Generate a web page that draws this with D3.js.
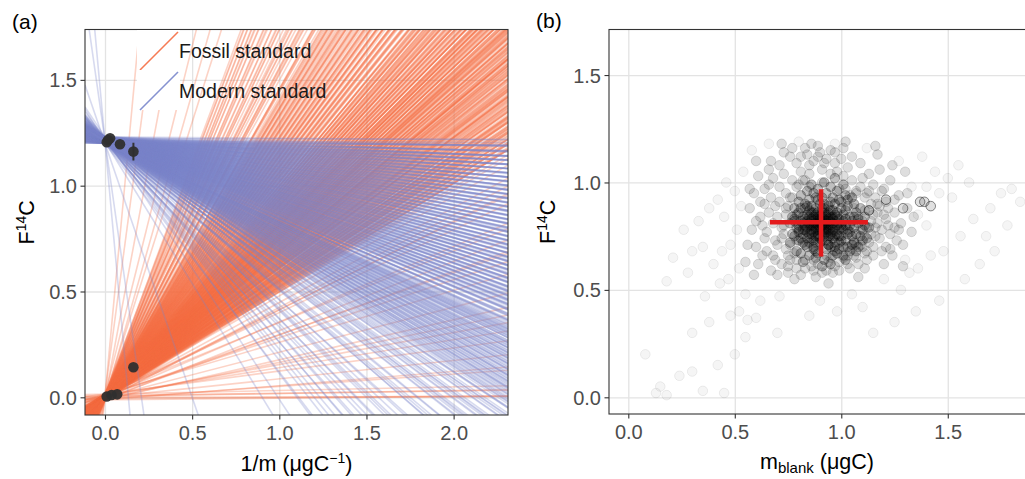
<!DOCTYPE html>
<html>
<head>
<meta charset="utf-8">
<script src="https://cdn.jsdelivr.net/npm/d3@7"></script>
<style>
  body { margin: 0; background: #fff; }
  svg { font-family: "Liberation Sans", Arial, sans-serif; }
  .tick text { fill: #4d4d4d; font-size: 20px; }
  .tick line { stroke: #333; stroke-width: 1.1; }
  .grid .tick line { stroke: #e3e3e3; stroke-width: 1.3; }
</style>
</head>
<body>
<svg id="chart" width="1025" height="479"></svg>
<script>
// ---- data ----
var xTicksA = [0, 0.5, 1, 1.5, 2];
var yTicks = [0, 0.5, 1, 1.5];
var xTicksB = [0, 0.5, 1, 1.5];

// standard lines F14C = intercept + slope * (1/m), grouped by intercept
var fossilIntercepts = [0.000, 0.008, -0.006, 0.015, -0.012, 0.004];
var fossilSlopes = [
 [0.002,0.087,0.213,0.356,0.448,
  0.506,0.518,0.527,0.539,0.552,0.561,0.574,0.583,0.596,0.607,0.615,0.628,0.639,0.651,0.659,0.672,0.684,
  0.691,0.705,0.716,0.724,0.738,0.749,0.757,0.771,0.779,0.792,0.806,0.813,0.828,0.839,0.851,0.866,0.874,
  0.889,0.903,0.918,0.931,0.949,0.962,0.981,0.996,
  1.018,1.044,1.061,1.089,1.112,1.138,1.161,1.193,1.221,1.256,1.283,1.322,1.358,1.391,
  1.44,1.53,1.62,1.74,1.88,2.03,2.19, 2.6,
  0.545,0.612,0.677,0.733,0.797],
 [0.011,0.132,0.274,0.392,0.471,
  0.502,0.513,0.524,0.536,0.545,0.558,0.569,0.579,0.588,0.601,0.611,0.622,0.633,0.643,0.656,0.664,0.677,
  0.688,0.697,0.709,0.719,0.731,0.742,0.752,0.763,0.776,0.786,0.797,0.809,0.821,0.834,0.845,0.858,0.870,
  0.883,0.897,0.911,0.925,0.940,0.955,0.971,0.989,
  1.008,1.031,1.053,1.076,1.101,1.126,1.149,1.178,1.207,1.239,1.270,1.305,1.341,1.377,
  1.41,1.49,1.58,1.69,1.81,1.96,2.12, 3.3,
  0.566,0.628,0.693,0.757,0.818],
 [0.005,0.058,0.171,0.301,0.419,
  0.509,0.521,0.531,0.543,0.556,0.565,0.577,0.586,0.593,0.604,0.618,0.626,0.637,0.648,0.653,0.668,0.679,
  0.694,0.701,0.712,0.727,0.735,0.746,0.754,0.768,0.774,0.789,0.801,0.817,0.825,0.842,0.849,0.862,0.878,
  0.886,0.908,0.915,0.936,0.944,0.966,0.977,
  1.003,1.025,1.049,1.069,1.094,1.119,1.144,1.172,1.199,1.231,1.262,1.297,1.334,1.369,
  1.46,1.56,1.66,1.78,1.92,2.08, 4.4,
  0.534,0.599,0.662,0.721,0.783],
 [0.017,0.109,0.245,0.338,0.482,
  0.504,0.515,0.529,0.537,0.549,0.563,0.571,0.581,0.592,0.603,0.613,0.624,0.635,0.646,0.657,0.666,0.675,
  0.686,0.699,0.707,0.718,0.729,0.740,0.751,0.761,0.772,0.784,0.795,0.804,0.819,0.831,0.843,0.855,0.868,
  0.881,0.894,0.906,0.921,0.934,0.952,0.968,0.985,
  1.013,1.036,1.057,1.081,1.106,1.131,1.155,1.184,1.214,1.247,1.277,1.313,1.349,1.386,
  1.43,1.51,1.60,1.72,1.85,2.00,2.16, 6.2,
  0.558,0.619,0.681,0.746,0.808],
 [0.008,0.067,0.189,0.327,0.437,
  0.511,0.523,0.533,0.547,0.554,0.567,0.576,0.590,0.598,0.609,0.620,0.631,0.641,0.654,0.662,0.673,0.683,
  0.695,0.703,0.714,0.722,0.733,0.744,0.756,0.766,0.778,0.788,0.799,0.811,0.823,0.836,0.847,0.860,0.872,
  0.885,0.899,0.913,0.927,0.943,0.958,0.974,0.992,
  1.022,1.047,1.072,1.097,1.123,1.152,1.181,1.212,1.243,1.276,1.311,1.347,1.384,
  1.47,1.57,1.68,1.83,1.99,2.14, 2.9,
  0.571,0.636,0.699,0.761,0.829],
 [0.014,0.151,0.292,0.411,0.494,
  0.507,0.519,0.532,0.541,0.551,0.562,0.572,0.584,0.594,0.606,0.616,0.627,0.638,0.649,0.661,0.670,0.681,
  0.690,0.703,0.711,0.721,0.733,0.745,0.753,0.765,0.777,0.787,0.800,0.812,0.826,0.837,0.850,0.864,0.876,
  0.891,0.904,0.920,0.933,0.947,0.963,0.979,0.995,
  1.015,1.039,1.065,1.091,1.116,1.141,1.167,1.196,1.226,1.259,1.292,1.327,1.363,1.399,
  1.45,1.54,1.64,1.76,1.90,2.06,2.22, 8.8,
  0.547,0.611,0.676,0.739,0.802]
];

var modernIntercepts = [1.200, 1.208, 1.215, 1.222, 1.230, 1.212];
var modernSlopes = [
 [-0.003,-0.014,-0.025,
  -0.034,-0.043,-0.051,-0.060,-0.069,-0.077,-0.085,-0.095,-0.103,-0.111,-0.121,-0.128,-0.137,-0.146,-0.154,
  -0.163,-0.171,-0.179,-0.189,-0.197,-0.206,-0.213,-0.223,-0.231,-0.239,-0.248,-0.257,-0.264,-0.274,-0.282,
  -0.291,-0.299,-0.308,-0.317,-0.327,-0.336,-0.347,-0.358,
  -0.372,-0.391,-0.409,-0.431,-0.452,-0.476,-0.501,-0.527,-0.556,-0.588,-0.622,
  -0.67,-0.74,-0.83,-0.94,-1.08, -2.4,
  -0.381,-0.419,-0.441,-0.464,-0.489,-0.514,-0.541],
 [-0.008,-0.019,-0.029,
  -0.037,-0.046,-0.055,-0.063,-0.072,-0.081,-0.089,-0.098,-0.107,-0.116,-0.124,-0.133,-0.141,-0.150,-0.159,
  -0.167,-0.176,-0.184,-0.193,-0.202,-0.210,-0.219,-0.227,-0.236,-0.244,-0.253,-0.261,-0.270,-0.279,-0.287,
  -0.296,-0.305,-0.314,-0.323,-0.332,-0.342,-0.352,-0.364,
  -0.379,-0.397,-0.416,-0.437,-0.459,-0.483,-0.508,-0.536,-0.566,-0.598,-0.634,
  -0.69,-0.77,-0.86,-0.98,-1.34, -9.0,
  -0.388,-0.406,-0.426,-0.448,-0.471,-0.495,-0.522],
 [-0.005,-0.011,-0.022,
  -0.032,-0.041,-0.049,-0.058,-0.066,-0.075,-0.083,-0.092,-0.100,-0.109,-0.118,-0.126,-0.135,-0.143,-0.152,
  -0.161,-0.169,-0.178,-0.186,-0.195,-0.204,-0.212,-0.221,-0.229,-0.238,-0.246,-0.255,-0.263,-0.272,-0.281,
  -0.289,-0.298,-0.307,-0.316,-0.325,-0.334,-0.344,-0.355,
  -0.369,-0.386,-0.404,-0.424,-0.445,-0.468,-0.492,-0.519,-0.547,-0.577,-0.611,-0.648,
  -0.71,-0.80,-0.91,-1.04,
  -0.377,-0.395,-0.414,-0.434,-0.456,-0.480,-0.505],
 [-0.001,-0.016,-0.027,
  -0.036,-0.044,-0.053,-0.061,-0.070,-0.079,-0.087,-0.096,-0.105,-0.113,-0.122,-0.131,-0.139,-0.148,-0.157,
  -0.165,-0.174,-0.183,-0.191,-0.200,-0.208,-0.217,-0.225,-0.234,-0.242,-0.251,-0.259,-0.268,-0.277,-0.285,
  -0.294,-0.303,-0.312,-0.321,-0.330,-0.339,-0.349,-0.361,
  -0.375,-0.393,-0.412,-0.433,-0.455,-0.479,-0.504,-0.531,-0.561,-0.593,-0.628,
  -0.68,-0.76,-0.85,-0.96,-1.11,
  -0.384,-0.402,-0.422,-0.444,-0.467,-0.491,-0.517],
 [-0.006,-0.018,-0.030,
  -0.039,-0.047,-0.056,-0.065,-0.073,-0.082,-0.091,-0.099,-0.108,-0.117,-0.125,-0.134,-0.142,-0.151,-0.160,
  -0.168,-0.177,-0.185,-0.194,-0.203,-0.211,-0.220,-0.228,-0.237,-0.245,-0.254,-0.262,-0.271,-0.280,-0.288,
  -0.297,-0.306,-0.315,-0.324,-0.333,-0.343,-0.353,-0.366,
  -0.382,-0.400,-0.420,-0.441,-0.463,-0.487,-0.513,-0.541,-0.571,-0.604,-0.640,
  -0.72,-0.82,-0.93,-1.24,
  -0.373,-0.391,-0.410,-0.430,-0.452,-0.475,-0.500],
 [-0.010,-0.021,-0.031,
  -0.040,-0.048,-0.057,-0.067,-0.074,-0.084,-0.093,-0.101,-0.110,-0.119,-0.127,-0.136,-0.145,-0.153,-0.162,
  -0.170,-0.180,-0.187,-0.196,-0.205,-0.214,-0.222,-0.230,-0.240,-0.247,-0.256,-0.265,-0.273,-0.283,-0.290,
  -0.300,-0.309,-0.318,-0.328,-0.337,-0.346,-0.356,-0.367,
  -0.384,-0.402,-0.422,-0.443,-0.466,-0.490,-0.516,-0.544,-0.574,-0.607,-0.644,
  -0.70,-0.79,-0.88,-1.01, -5.8,
  -0.392,-0.411,-0.432,-0.454,-0.478,-0.503,-0.529]
];

// measured standards, [1/m, F14C, error]
var fossilPts = [[0.010,0.004,0],[0.038,0.011,0],[0.070,0.014,0],[0.163,0.142,0]];
var modernPts = [[0.010,1.205,0],[0.018,1.216,0],[0.029,1.224,0],[0.086,1.196,0],[0.163,1.161,0.042]];

// panel (b): draws of the blank [m_blank, F14C]; core / mid / tail of the cloud
var blankCore = [
 [0.82,0.63],[0.88,0.65],[0.95,0.62],[1.01,0.66],[0.91,0.61],[0.98,0.67],[0.85,0.66],
 [0.79,0.68],[0.84,0.70],[0.89,0.67],[0.93,0.69],[0.97,0.68],[1.03,0.70],[0.87,0.69],
 [0.95,0.70],[1.07,0.68],[0.81,0.67],
 [0.76,0.72],[0.80,0.73],[0.83,0.71],[0.86,0.74],[0.88,0.72],[0.91,0.73],[0.94,0.71],[0.96,0.74],
 [0.99,0.72],[1.02,0.73],[1.05,0.71],[0.85,0.72],[0.92,0.75],[1.00,0.75],[0.78,0.75],
 [0.77,0.76],[0.80,0.78],[0.82,0.76],[0.84,0.77],[0.86,0.76],[0.88,0.78],[0.90,0.77],
 [0.92,0.76],[0.94,0.78],[0.96,0.77],[0.98,0.76],[1.01,0.78],[1.04,0.77],[1.07,0.76],[0.89,0.75],
 [0.95,0.75],[0.83,0.78],[0.97,0.79],[1.10,0.78],
 [0.76,0.81],[0.79,0.79],[0.81,0.82],[0.83,0.80],[0.85,0.81],[0.87,0.80],[0.89,0.82],
 [0.91,0.80],[0.93,0.81],[0.95,0.80],[0.97,0.82],[0.99,0.81],[1.02,0.80],[1.05,0.82],[1.08,0.81],
 [0.88,0.79],[0.92,0.79],[0.86,0.83],[0.94,0.83],[1.00,0.79],[0.78,0.83],
 [0.77,0.84],[0.80,0.86],[0.82,0.84],[0.84,0.85],[0.87,0.86],[0.89,0.84],[0.91,0.86],
 [0.93,0.85],[0.96,0.84],[0.98,0.86],[1.01,0.85],[1.04,0.84],[1.07,0.86],[0.90,0.83],[0.95,0.87],
 [0.85,0.87],[0.81,0.88],
 [0.78,0.88],[0.83,0.90],[0.86,0.89],[0.88,0.88],[0.90,0.90],[0.92,0.88],[0.94,0.89],
 [0.97,0.90],[1.00,0.88],[1.03,0.89],[1.06,0.90],[0.80,0.91],[0.89,0.92],[0.99,0.92],
 [0.81,0.94],[0.85,0.92],[0.87,0.95],[0.91,0.93],[0.93,0.95],[0.96,0.93],[1.02,0.94],
 [0.84,0.96],[0.98,0.96],[1.05,0.93],[0.89,0.97],
 [0.86,0.99],[0.92,1.00],[0.95,0.98],[1.01,0.99],[0.97,1.02],
 [0.81,0.74],[0.84,0.79],[0.87,0.73],[0.90,0.84],[0.93,0.78],[0.96,0.81],[0.99,0.75],[1.02,0.83],
 [0.78,0.82],[0.85,0.76],[0.88,0.81],[0.91,0.77],[0.94,0.86],[0.97,0.72],[1.00,0.80],[0.83,0.88],
 [0.86,0.82],[0.89,0.76],[0.92,0.83],[0.95,0.79],[0.98,0.84],[1.03,0.78],[0.80,0.77],[0.82,0.81],
 [0.87,0.84],[0.90,0.79],[0.93,0.73],[0.96,0.87],[0.99,0.83],[0.85,0.80],[0.88,0.85],[0.91,0.82],
 [0.94,0.80],[0.97,0.85],[0.84,0.74],[0.89,0.78],[0.92,0.86],[0.95,0.76],[1.01,0.82],[0.86,0.78],
 [0.90,0.81],[0.93,0.84],[0.87,0.77],[0.91,0.84],[0.94,0.75],[0.88,0.83],[0.92,0.80],[0.96,0.78],
 [0.83,0.83],[0.89,0.86],[0.95,0.82],[0.90,0.74],[0.86,0.86],[0.93,0.77],[0.98,0.80],[0.82,0.78],
 [0.91,0.88],[0.97,0.75],[0.85,0.84],[0.88,0.75],[0.94,0.82],[0.87,0.81],[0.92,0.78],[0.90,0.82],
 [0.89,0.80],[0.91,0.80],[0.93,0.82],[0.95,0.84],[0.86,0.80],[0.99,0.78],[1.04,0.80],[0.80,0.80],
 [0.84,0.82],[0.96,0.83],[1.06,0.79],[0.79,0.85],[1.02,0.87],[0.87,0.70],[0.94,0.71],[1.00,0.73],
 [0.82,0.72],[0.90,0.72],[0.97,0.70],[0.84,0.89],[0.92,0.90],[1.00,0.91],[0.88,0.93],[0.95,0.91],
 [1.05,0.75],[1.08,0.83],[1.09,0.88],[1.11,0.80],[1.12,0.74],[1.03,0.92],
 [1.03,0.76],[1.06,0.72],[1.09,0.75],[1.04,0.68],[1.08,0.70],[1.11,0.84],[1.01,0.70],[1.06,0.84],
 [1.10,0.73],[0.99,0.69],[0.96,0.66],[1.02,0.64],[0.92,0.64],[0.88,0.68],[1.13,0.79]
];
var blankMid = [
 [0.58,0.78],[0.62,0.91],[0.65,0.68],[0.68,1.02],[0.70,0.84],[0.72,0.62],[0.74,0.95],[0.73,0.76],
 [0.66,0.86],[0.60,0.70],[0.64,0.97],[0.69,0.73],[0.71,1.08],[0.75,0.66],[0.77,1.01],[0.79,0.60],
 [0.81,1.05],[0.83,0.64],[0.85,0.98],[0.87,1.10],[0.89,0.62],[0.91,1.00],[0.93,0.66],[0.95,1.04],
 [0.97,0.61],[0.99,0.97],[1.01,0.65],[1.03,1.07],[1.05,0.69],[1.07,0.95],[1.09,0.78],[1.11,0.87],
 [1.13,0.72],[1.15,0.99],[1.17,0.81],[1.19,0.68],[1.21,0.91],[1.23,0.76],[1.08,0.84],[1.06,0.73],
 [1.10,1.02],[1.12,0.64],[1.14,0.90],[1.16,0.75],[1.18,1.06],[1.20,0.85],[0.63,0.80],[0.67,0.93],
 [0.61,0.62],[0.57,0.88],[0.70,0.57],[0.76,1.12],[0.80,0.99],[0.84,1.13],[0.88,0.56],[0.92,1.09],
 [0.96,0.58],[1.00,1.11],[1.04,0.60],[0.78,0.67],[0.82,1.01],[0.86,0.61],[0.90,1.14],[0.94,0.63],
 [0.98,1.05],[1.02,0.97],[1.06,0.88],[1.10,0.70],[1.14,0.82],[0.74,0.88],[0.72,0.79],[0.68,0.66],
 [0.66,1.06],[0.76,0.71],[1.08,0.62],[1.12,0.95],[1.16,0.93],[1.22,0.80],
 [0.59,0.95],[0.61,1.03],[0.64,0.74],[0.67,0.59],[0.69,0.89],[0.71,0.98],[0.73,1.14],[0.75,0.58],
 [0.77,0.93],[0.79,1.09],[0.81,0.57],[0.83,1.16],[0.85,1.04],[0.87,0.59],[0.89,1.17],[0.91,1.06],
 [0.93,0.59],[0.95,1.15],[0.97,1.09],[0.99,0.63],[1.01,1.16],[1.03,0.66],[1.05,1.12],[1.07,0.65],
 [1.09,1.09],[1.11,0.60],[1.13,1.04],[1.15,0.66],[1.17,1.13],[1.19,0.96],[1.21,0.70],[1.23,1.01],
 [1.25,0.86],[1.27,0.94],[1.26,0.73],[1.24,0.66],[1.28,0.81],[1.30,1.05],[1.31,0.88],[1.33,0.77],
 [1.12,0.79],[1.15,0.85],[1.18,0.74],[1.20,0.97],[1.22,0.88],[1.25,0.79],[1.11,0.93],[1.14,0.76],
 [1.17,0.90],[1.09,0.71],[1.10,0.82],[1.13,0.87],
 [0.76,0.93],[0.74,0.85],[0.73,0.80],[0.74,0.69],[0.76,0.64],[0.75,0.89],[0.79,0.98],[0.83,1.01],
 [0.79,0.73],[0.72,0.74],[1.07,0.96],[1.11,0.67],
 [0.62,0.84],[0.65,0.77],[0.67,1.10],[0.69,0.64],[0.71,0.91],[0.73,1.04],[0.75,0.61],[0.77,1.16],
 [0.79,0.64],[0.81,1.12],[0.83,0.60],[0.85,1.08],[0.87,0.64],[0.89,1.12],[0.91,0.58],[0.93,1.11],
 [0.95,0.65],[0.97,1.14],[0.99,0.59],[1.01,1.03],[1.03,0.62],[1.05,1.01],[1.07,0.71],[1.09,0.98],
 [1.11,0.75],[1.13,0.96],[1.15,0.70],[1.17,0.86],[1.19,0.78],[1.21,0.83],[1.23,0.69],[1.25,0.92],
 [1.27,0.78],[1.29,0.71],[1.31,0.95],[1.34,0.84],[1.12,0.68],[1.16,0.79],[1.18,0.89],[1.06,0.66],
 [1.04,0.94],[0.68,0.81],[0.70,0.71],[0.64,0.90],[0.60,0.82],[0.57,0.97],[0.56,0.71],[0.63,0.66],
 [0.66,0.99],[0.72,1.18],[0.86,1.18],[1.02,1.19],[1.16,1.17],[1.24,1.08],[0.60,1.10],[0.55,0.63],
 [0.59,0.57],[0.78,0.55],[0.94,0.53],[1.08,0.56],[1.20,0.62],[1.29,0.61]
];
var blankTail = [
 [0.45,0.84],[0.48,0.71],[0.50,0.96],[0.52,0.60],[0.54,1.05],[0.47,0.55],[0.42,0.92],[0.55,0.48],
 [0.58,1.15],[0.62,0.45],[0.66,1.18],[0.71,0.47],[0.80,1.19],[0.90,0.45],[0.97,1.18],[1.05,0.48],
 [1.12,1.16],[1.20,0.55],[1.27,1.10],[1.30,0.64],[1.33,0.98],[1.36,0.60],[1.40,0.80],[1.44,1.05],
 [1.48,0.68],[1.52,0.93],[1.56,0.75],[1.60,1.00],[1.65,0.62],[1.70,0.88],[1.75,0.95],[1.80,0.97],
 [1.84,0.91],[1.58,0.55],[1.46,0.45],[1.35,0.40],[1.25,0.35],[1.15,0.30],[0.40,0.62],[0.35,0.70],
 [0.30,0.68],[0.28,0.58],[0.43,0.53],[0.48,0.38],[0.30,0.30],[0.56,0.36],[0.08,0.20],[0.13,0.02],
 [0.18,0.01],[0.35,0.03],[0.45,0.02],[0.18,0.54],[0.21,0.65],[0.38,0.35],[0.60,0.37],[0.50,0.20],
 [0.55,0.28],[0.70,0.30],[0.85,0.38],[0.30,0.12],[0.42,0.15],[0.26,0.78],[0.33,0.82],[0.52,0.40],
 [1.38,1.12],[1.50,1.02],[1.68,0.75],[1.28,0.50],[0.98,0.40],[1.10,0.42],[0.15,0.05],[0.24,0.10],
 [0.36,0.47],[0.38,0.88],[0.46,1.00],[0.44,0.68],[0.51,0.78],[0.53,0.89],[1.42,0.66],[1.62,0.83],
 [1.72,0.68],[1.55,1.08],[1.46,0.95],[1.36,0.85],[1.40,0.98],[1.32,0.58],[1.78,0.80]
];
// repeated draws that show as darker rings
var blankRepeat = [[1.13,0.87],[1.21,0.92],[1.29,0.88],[1.37,0.91],[1.39,0.91],[1.42,0.89]];

// posterior mean and interval of the blank
var blankMean = [0.905, 0.815];
var blankRangeM = [0.665, 1.125];
var blankRangeF = [0.655, 0.968];

// ---- drawing ----
var svg = d3.select("#chart");
var fossilCol = "#f46d43", modernCol = "#7986cb";

var pa = {l: 85, r: 508, t: 29.5, b: 415};
var pb = {l: 609, r: 1027, t: 29.5, b: 414};

var xa = d3.scaleLinear().domain([-0.1147, 2.312]).range([pa.l, pa.r]);
var ya = d3.scaleLinear().domain([-0.0836, 1.738]).range([pa.b, pa.t]);
var xb = d3.scaleLinear().domain([-0.0906, 1.872]).range([pb.l, pb.r]);
var yb = d3.scaleLinear().domain([-0.0777, 1.712]).range([pb.b, pb.t]);

var defs = svg.append("defs");
defs.append("clipPath").attr("id", "clipA").append("rect")
  .attr("x", pa.l).attr("y", pa.t).attr("width", pa.r - pa.l).attr("height", pa.b - pa.t);
defs.append("clipPath").attr("id", "clipB").append("rect")
  .attr("x", pb.l).attr("y", pb.t).attr("width", pb.r - pb.l).attr("height", pb.b - pb.t);
defs.append("filter").attr("id", "soft").append("feGaussianBlur").attr("stdDeviation", 0.6);

function grid(p, x, y, xt) {
  svg.append("g").attr("class", "grid").attr("transform", "translate(0," + p.b + ")")
    .call(d3.axisBottom(x).tickValues(xt).tickSize(-(p.b - p.t)).tickFormat(""))
    .call(g => g.select(".domain").remove());
  svg.append("g").attr("class", "grid").attr("transform", "translate(" + p.l + ",0)")
    .call(d3.axisLeft(y).tickValues(yTicks).tickSize(-(p.r - p.l)).tickFormat(""))
    .call(g => g.select(".domain").remove());
}

function axes(p, x, y, xt) {
  svg.append("g").attr("transform", "translate(0," + p.b + ")")
    .call(d3.axisBottom(x).tickValues(xt).tickSize(4.5).tickPadding(6).tickFormat(d3.format(".1f")))
    .call(g => g.select(".domain").remove());
  svg.append("g").attr("transform", "translate(" + p.l + ",0)")
    .call(d3.axisLeft(y).tickValues(yTicks).tickSize(4.5).tickPadding(3.5).tickFormat(d3.format(".1f")))
    .call(g => g.select(".domain").remove())
    .selectAll("text").attr("dy", "0.35em");
  svg.append("rect").attr("x", p.l).attr("y", p.t)
    .attr("width", p.r - p.l).attr("height", p.b - p.t)
    .attr("fill", "none").attr("stroke", "#333").attr("stroke-width", 1.1);
}

// panel (a)
grid(pa, xa, ya, xTicksA);
var gl = svg.append("g").attr("clip-path", "url(#clipA)");
var xlo = xa.domain()[0], xhi = xa.domain()[1];
function drawLines(intercepts, slopes, col) {
  intercepts.forEach(function(a, i) {
    gl.append("g").selectAll("line").data(slopes[i]).join("line")
      .attr("x1", xa(xlo)).attr("x2", xa(xhi))
      .attr("y1", b => ya(a + b * xlo))
      .attr("y2", b => ya(a + b * xhi))
      .attr("stroke", col).attr("stroke-opacity", 0.3).attr("stroke-width", 1.6);
  });
}
drawLines(fossilIntercepts, fossilSlopes, fossilCol);
drawLines(modernIntercepts, modernSlopes, modernCol);

var gp = svg.append("g").attr("clip-path", "url(#clipA)");
gp.selectAll("line.err").data(modernPts.concat(fossilPts).filter(d => d[2] > 0)).join("line")
  .attr("x1", d => xa(d[0])).attr("x2", d => xa(d[0]))
  .attr("y1", d => ya(d[1] - d[2])).attr("y2", d => ya(d[1] + d[2]))
  .attr("stroke", "#333").attr("stroke-width", 2);
gp.selectAll("circle").data(fossilPts.concat(modernPts)).join("circle")
  .attr("cx", d => xa(d[0])).attr("cy", d => ya(d[1])).attr("r", 5.3)
  .attr("fill", "#2f2f2f").attr("fill-opacity", 0.95);

axes(pa, xa, ya, xTicksA);

// legend (keys have white backgrounds)
var leg = [
  {label: "Fossil standard", col: fossilCol, y0: 30},
  {label: "Modern standard", col: modernCol, y0: 70}
];
leg.forEach(function(k) {
  svg.append("rect").attr("x", 137).attr("y", k.y0).attr("width", 43).attr("height", 40).attr("fill", "#fff");
  svg.append("line").attr("x1", 140).attr("y1", k.y0 + 40).attr("x2", 178).attr("y2", k.y0 + 2)
    .attr("stroke", k.col).attr("stroke-width", 1.6).attr("stroke-opacity", 0.9);
  svg.append("text").attr("x", 179).attr("y", k.y0 + 28).attr("font-size", 19.5).attr("fill", "#1a1a1a")
    .text(k.label);
});

// panel (b)
grid(pb, xb, yb, xTicksB);
var gs = svg.append("g").attr("clip-path", "url(#clipB)");
var gc = gs.append("g").attr("filter", "url(#soft)");
function drawCloud(data, fo, so) {
  gc.append("g").selectAll("circle").data(data).join("circle")
    .attr("cx", d => xb(d[0])).attr("cy", d => yb(d[1])).attr("r", 4.8)
    .attr("fill", "#000").attr("fill-opacity", fo)
    .attr("stroke", "#000").attr("stroke-opacity", so).attr("stroke-width", 1);
}
drawCloud(blankTail, 0.04, 0.07);
drawCloud(blankMid, 0.13, 0.13);
drawCloud(blankCore, 0.25, 0.25);
drawCloud(blankRepeat, 0.12, 0.45);

gs.append("line")
  .attr("x1", xb(blankRangeM[0])).attr("x2", xb(blankRangeM[1]))
  .attr("y1", yb(blankMean[1])).attr("y2", yb(blankMean[1]))
  .attr("stroke", "#e41a1c").attr("stroke-width", 4.5);
gs.append("line")
  .attr("x1", xb(blankMean[0])).attr("x2", xb(blankMean[0]))
  .attr("y1", yb(blankRangeF[0])).attr("y2", yb(blankRangeF[1]))
  .attr("stroke", "#e41a1c").attr("stroke-width", 4.5);

axes(pb, xb, yb, xTicksB);

// titles and tags
svg.append("text").attr("x", 12).attr("y", 29).attr("font-size", 21).text("(a)");
svg.append("text").attr("x", 536).attr("y", 28).attr("font-size", 21).text("(b)");

function yTitle(x, p) {
  var t = svg.append("text").attr("transform", "translate(" + x + "," + ((p.t + p.b) / 2) + ") rotate(-90)")
    .attr("text-anchor", "middle").attr("font-size", 21.5);
  t.append("tspan").text("F");
  t.append("tspan").attr("font-size", 14).attr("dy", -8).text("14");
  t.append("tspan").attr("dy", 8).text("C");
}
yTitle(34, pa);
yTitle(555, pb);

var xt1 = svg.append("text").attr("x", (pa.l + pa.r) / 2).attr("y", 471)
  .attr("text-anchor", "middle").attr("font-size", 21.5);
xt1.append("tspan").text("1/m (\u03bcgC");
xt1.append("tspan").attr("font-size", 14).attr("dy", -8).text("\u22121");
xt1.append("tspan").attr("dy", 8).text(")");

var xt2 = svg.append("text").attr("x", 817).attr("y", 469)
  .attr("text-anchor", "middle").attr("font-size", 21.5);
xt2.append("tspan").text("m");
xt2.append("tspan").attr("font-size", 15).attr("dy", 4).text("blank");
xt2.append("tspan").attr("dy", -4).text(" (\u03bcgC)");
</script>
</body>
</html>
